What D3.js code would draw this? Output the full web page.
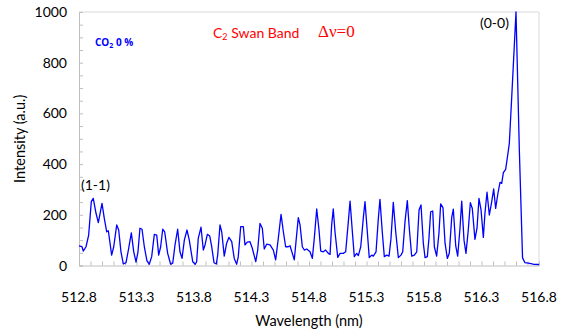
<!DOCTYPE html>
<html>
<head>
<meta charset="utf-8">
<script src="https://cdn.jsdelivr.net/npm/d3@7"></script>
<style>
  body { margin: 0; background: #fff; }
  svg { display: block; font-family: Lato, "Open Sans", sans-serif; }
  .tick-label { font-size: 14px; fill: #000; }
</style>
</head>
<body>
<script>
// C2 Swan band (Δv=0) emission spectrum, CO2 0 %
const wavelength = [
  512.800, 512.826, 512.837, 512.861, 512.884, 512.907, 512.924, 512.948, 512.968, 513.000,
  513.020, 513.041, 513.055, 513.084, 513.102, 513.128, 513.145, 513.165, 513.185, 513.209,
  513.232, 513.255, 513.276, 513.296, 513.313, 513.330, 513.348, 513.368, 513.391, 513.411,
  513.432, 513.455, 513.476, 513.493, 513.510, 513.528, 513.545, 513.571, 513.597, 513.615,
  513.635, 513.658, 513.678, 513.696, 513.716, 513.739, 513.759, 513.789, 513.811, 513.823,
  513.837, 513.861, 513.881, 513.896, 513.916, 513.937, 513.954, 513.974, 513.994, 514.006,
  514.026, 514.041, 514.063, 514.084, 514.104, 514.128, 514.150, 514.171, 514.185, 514.206,
  514.229, 514.243, 514.263, 514.287, 514.307, 514.337, 514.354, 514.374, 514.394, 514.411,
  514.432, 514.461, 514.490, 514.510, 514.533, 514.557, 514.577, 514.597, 514.620, 514.635,
  514.655, 514.672, 514.687, 514.707, 514.722, 514.742, 514.759, 514.780, 514.809, 514.829,
  514.846, 514.867, 514.887, 514.902, 514.924, 514.945, 514.968, 514.983, 514.997, 515.011,
  515.026, 515.050, 515.070, 515.098, 515.119, 515.142, 515.157, 515.177, 515.194, 515.215,
  515.229, 515.250, 515.272, 515.287, 515.307, 515.324, 515.345, 515.359, 515.383, 515.403,
  515.417, 515.437, 515.455, 515.476, 515.496, 515.513, 515.533, 515.554, 515.577, 515.600,
  515.615, 515.635, 515.655, 515.672, 515.693, 515.716, 515.737, 515.757, 515.774, 515.794,
  515.809, 515.829, 515.843, 515.858, 515.876, 515.890, 515.910, 515.930, 515.945, 515.965,
  515.983, 516.003, 516.020, 516.041, 516.055, 516.076, 516.093, 516.113, 516.128, 516.148,
  516.165, 516.185, 516.203, 516.220, 516.243, 516.261, 516.278, 516.296, 516.316, 516.330,
  516.348, 516.368, 516.389, 516.406, 516.423, 516.443, 516.461, 516.476, 516.490, 516.510,
  516.528, 516.542, 516.563, 516.600, 516.629, 516.657, 516.678, 516.707, 516.750, 516.800
];
const intensity = [
   77,  74,  57,  74, 120, 252, 265, 206, 169, 245,
  186, 133, 137,  41,  74, 160, 140,  54,   6,  11,
   68, 129,  54,  13,  54, 147, 143,  74,  18,   5,
   35, 123, 120,  41,  74, 143, 133,  48,   5,   9,
   81, 143,  54,  28, 100, 140, 100,  15,   5,  15,
  107, 151,  61,  81, 123, 116,  74,  11,   6,  41,
  160, 133,  37,  88, 111,  94,  28,   5,  35, 153,
  153,  81,  92,  94,  68,  15,  61, 166, 147,  65,
   84,  81,  61,  22, 107, 202, 133,  74,  74,  78,
   48,  22,  94, 189, 160,  74,  61,  65,  54,  28,
  107, 223, 140,  57,  54,  61,  48,  44, 160, 223,
  133,  32,  48,  48,  54, 173, 254, 133,  35,  48,
   39,  74, 186, 252, 133,  31,  41,  37,  54, 186,
  261, 133,  35,  41,  37, 107, 249, 133,  31,  41,
   54, 173, 256, 147,  37,  41,  54, 219, 239,  88,
   31,  35, 107, 212, 215,  74,  37, 127, 243, 228,
   88,  28,  48, 190, 222,  77,  37, 147, 254, 100,
   48, 140, 248, 225, 103, 147, 265, 219, 111, 206,
  289, 199, 252, 302, 225, 285, 328, 324, 366, 379,
  436, 482, 666, 1000, 456, 30,  11,   9,   5,   4
];

const xTickValues = [512.8, 513.3, 513.8, 514.3, 514.8, 515.3, 515.8, 516.3, 516.8];
const yTickValues = [0, 200, 400, 600, 800, 1000];

const W = 565, H = 329;
const M = { top: 12, left: 79, right: 26, bottom: 63.5 };

const svg = d3.select('body').append('svg')
  .attr('width', W).attr('height', H);

const x = d3.scaleLinear().domain([512.8, 516.8]).range([M.left, W - M.right]);
const y = d3.scaleLinear().domain([0, 1000]).range([H - M.bottom, M.top]);

// plot area frame (top and right)
svg.append('path')
  .attr('d', `M${x(512.8)},${y(1000)}H${x(516.8)}V${y(0)}`)
  .attr('fill', 'none').attr('stroke', '#d9d9d9').attr('stroke-width', 1);

// x axis: minor ticks every 0.1 nm pointing up, labels every 0.5
const xMinor = d3.range(0, 41).map(i => 512.8 + i * 0.1);
const xAxis = svg.append('g').attr('transform', `translate(0,${y(0)})`)
  .call(d3.axisBottom(x).tickValues(xMinor).tickSize(-4).tickFormat(''));
xAxis.select('.domain').attr('stroke', '#bfbfbf');
xAxis.selectAll('.tick line').attr('stroke', '#bfbfbf');

svg.append('g').selectAll('text').data(xTickValues).join('text')
  .attr('class', 'tick-label')
  .attr('x', d => x(d)).attr('y', y(0) + 36)
  .attr('text-anchor', 'middle')
  .text(d => d.toFixed(1));

// y axis: minor ticks every 50 pointing right
const yMinor = d3.range(0, 21).map(i => i * 50);
const yAxis = svg.append('g').attr('transform', `translate(${x(512.8)},0)`)
  .call(d3.axisLeft(y).tickValues(yMinor).tickSize(-4).tickFormat(''));
yAxis.select('.domain').attr('stroke', '#bfbfbf');
yAxis.selectAll('.tick line').attr('stroke', '#bfbfbf');

svg.append('g').selectAll('text').data(yTickValues).join('text')
  .attr('class', 'tick-label')
  .attr('x', x(512.8) - 12).attr('y', d => y(d) + 5)
  .attr('text-anchor', 'end')
  .text(d => d);

// spectrum
const line = d3.line().x(d => x(d[0])).y(d => y(d[1]));
svg.append('path')
  .datum(d3.zip(wavelength, intensity))
  .attr('d', line)
  .attr('fill', 'none')
  .attr('stroke', '#0000ff')
  .attr('stroke-width', 1.3)
  .attr('stroke-linejoin', 'round');

// axis titles
svg.append('text')
  .attr('x', (x(512.8) + x(516.8)) / 2).attr('y', 326)
  .attr('text-anchor', 'middle').style('font-size', '14.5px')
  .text('Wavelength (nm)');

svg.append('text')
  .attr('transform', `translate(25,${(y(0) + y(1000)) / 2}) rotate(-90)`)
  .attr('text-anchor', 'middle').style('font-size', '14.5px')
  .text('Intensity (a.u.)');

// annotations
svg.append('text').attr('x', 81).attr('y', 190).style('font-size', '14px').text('(1-1)');
svg.append('text').attr('x', 480).attr('y', 28).style('font-size', '14px').text('(0-0)');

const co2 = svg.append('text').attr('x', 95).attr('y', 46)
  .style('font-family', '"Open Sans", sans-serif')
  .style('font-size', '10px').style('font-weight', 'bold').attr('fill', '#0000ff');
co2.append('tspan').text('CO');
co2.append('tspan').attr('dy', 2).style('font-size', '7px').text('2');
co2.append('tspan').attr('dy', -2).text(' 0 %');

const swan = svg.append('text').attr('x', 213).attr('y', 38)
  .style('font-size', '14px').attr('fill', '#ff0000');
swan.append('tspan').text('C');
swan.append('tspan').attr('dy', 2).style('font-size', '9px').text('2');
swan.append('tspan').attr('dy', -2).text(' Swan Band');

svg.append('text').attr('x', 318).attr('y', 37)
  .style('font-family', '"Liberation Serif", "DejaVu Serif", serif')
  .style('font-size', '17px').attr('fill', '#ff0000')
  .text('Δν=0');
</script>
</body>
</html>
